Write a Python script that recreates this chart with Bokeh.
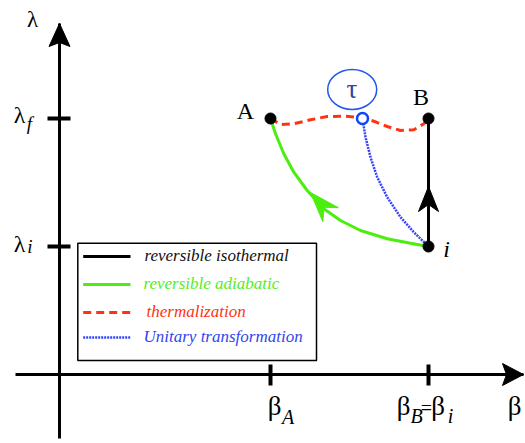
from bokeh.plotting import figure
from bokeh.models import Range1d
from bokeh.core.properties import value
from bokeh.embed import file_html
from bokeh.resources import INLINE
import numpy as np

SERIF = "Liberation Serif"

# ---------------- data (diagram coordinates: beta horizontal, lambda vertical) -------------
beta_A = 211
beta_B = 369
beta_tau = 303
lambda_i = 128
lambda_f = 256

beta_axis_extent = [-44, 464]
lambda_axis_extent = [-64, 351]

# reversible isothermal: i -> B
iso_beta = [beta_B, beta_B]
iso_lambda = [lambda_i, lambda_f]
iso_arrow_lambda = 188

# reversible adiabatic: i -> A
adi_beta = [369, 351, 327.7, 301, 281, 264.3, 247.7, 234.3, 224.3, 216, 211]
adi_lambda = [128, 131.3, 135.7, 144, 154, 165.7, 184, 202.3, 220.7, 240.7, 256]
adi_arrow = (251, 182)

# thermalization: A -> tau -> B
th_beta = [211, 221, 234.3, 251, 267.7, 284.3, 297.7, 303.3, 314.3, 327.7, 341, 354.3, 364.3, 369]
th_lambda = [256, 250, 250.7, 254.7, 258, 258.3, 257.3, 256.5, 253.3, 248, 244, 244.7, 250.7, 256]

# unitary transformation: tau -> i
un_beta = [303.3, 306, 311, 317.7, 327.7, 341, 354.3, 369]
un_lambda = [254, 237.3, 217.3, 197.3, 177.3, 157.3, 142.3, 128]

legend_labels = ["reversible isothermal", "reversible adiabatic", "thermalization", "Unitary transformation"]
legend_line_colors = ["#000000", "#4cee10", "#ff3311", "#3344ff"]
legend_text_colors = ["#111111", "#55ee22", "#ff3311", "#3344ee"]
legend_dashes = ["solid", "solid", "8 5", "2 1"]
legend_widths = [3, 3, 3, 2.5]
legend_text_x = [85, 84, 87, 84]

GREEN = "#4cee10"
RED = "#ff3311"
BLUE = "#3344ff"

# ---------------- figure ----------------
p = figure(width=525, height=443, output_backend="svg", toolbar_location=None,
           x_range=Range1d(-59, 466), y_range=Range1d(-69, 374),
           x_axis_type=None, y_axis_type=None, min_border=0)
p.outline_line_color = None
p.background_fill_color = "white"
p.border_fill_color = "white"


def head(tip, direction, L, W, D):
    u = np.array(direction, dtype=float)
    u = u / np.hypot(*u)
    n = np.array([-u[1], u[0]])
    t = np.array(tip, dtype=float)
    b1 = t - L * u + W / 2 * n
    nt = t - D * u
    b2 = t - L * u - W / 2 * n
    pts = [t, b1, nt, b2]
    return [q[0] for q in pts], [q[1] for q in pts]


# axes
p.line(beta_axis_extent, [0, 0], line_color="black", line_width=3)
p.line([0, 0], lambda_axis_extent, line_color="black", line_width=3)
hx, hy = head((beta_axis_extent[1], 0), (1, 0), 21, 22, 17)
p.patch(hx, hy, fill_color="black", line_color="black", line_width=1)
hx, hy = head((0, lambda_axis_extent[1]), (0, 1), 23, 21, 19)
p.patch(hx, hy, fill_color="black", line_color="black", line_width=1)

# ticks
for lam in [lambda_f, lambda_i]:
    p.line([-12, 11], [lam, lam], line_color="black", line_width=4)
for bet in [beta_A, beta_B]:
    p.line([bet, bet], [-11, 10], line_color="black", line_width=4)


def txt(x, y, s, size, italic=False, color="black", align="center"):
    p.text(x=[x], y=[y], text=[s], text_font=value(SERIF),
           text_font_size=f"{size}px", text_font_style="italic" if italic else "normal",
           text_color=color, text_align=align, text_baseline="middle")


# axis / tick labels
txt(-27, 355, "λ", 23)
txt(-40, lambda_f + 4, "λ", 24)
txt(-30, lambda_f - 5, "f", 19, italic=True)
txt(-40, lambda_i + 3, "λ", 24)
txt(-29.5, lambda_i + 0.5, "i", 19, italic=True)

txt(beta_A + 4, -31, "β", 27)
txt(beta_A + 17.5, -42, "A", 20, italic=True)
txt(beta_B - 25, -31, "β", 27)
txt(beta_B - 12, -41, "B", 20, italic=True)
txt(beta_B - 2, -33.5, "=", 20)
txt(beta_B + 9.5, -31, "β", 27)
txt(beta_B + 22, -41.5, "i", 20, italic=True)
txt(455, -31, "β", 27)

# curves
p.line(adi_beta, adi_lambda, line_color=GREEN, line_width=3)
p.line(th_beta, th_lambda, line_color=RED, line_width=3, line_dash="8 5")
p.line(un_beta, un_lambda, line_color=BLUE, line_width=2.5, line_dash="2 1")
p.line(iso_beta, iso_lambda, line_color="black", line_width=3)

# arrow heads on curves
hx, hy = head((beta_B, iso_arrow_lambda), (0, 1), 25, 20, 18)
p.patch(hx, hy, fill_color="black", line_color="black", line_width=1)
ab = np.array(adi_beta); al = np.array(adi_lambda)
k = int(np.argmin(np.hypot(ab - adi_arrow[0], al - adi_arrow[1])))
k = max(k, 1)
d = (ab[k] - ab[k - 1], al[k] - al[k - 1])
hx, hy = head(adi_arrow, d, 30, 21, 20)
p.patch(hx, hy, fill_color=GREEN, line_color=GREEN, line_width=1)

# points
p.scatter([beta_A, beta_B, beta_B], [lambda_f, lambda_f, lambda_i], size=11,
          fill_color="black", line_color="black")
p.scatter([beta_tau], [lambda_f], size=11, fill_color="white", line_color="#1144ff", line_width=2.5)

# point labels
txt(186, 264, "A", 24)
txt(361.5, 277.5, "B", 24)
txt(387, 126, "i", 24, italic=True)

# tau bubble
p.ellipse(x=[292.7], y=[285], width=49, height=40, fill_color=None, line_color="#2255ee", line_width=1.5)
txt(292.5, 286, "τ", 27, color="#334499")

# legend box
p.quad(left=[18.3], right=[257], bottom=[14], top=[131.3], fill_color="white",
       line_color="black", line_width=1.5)
rows_y = [118, 90, 62, 37]
for lab, lc, tc, dsh, lw, yy, tx in zip(legend_labels, legend_line_colors, legend_text_colors,
                                        legend_dashes, legend_widths, rows_y, legend_text_x):
    p.line([23.7, 71], [yy, yy], line_color=lc, line_width=lw, line_dash=dsh)
    txt(tx, yy + 1, lab, 17, italic=True, color=tc, align="left")

open("out.html", "w").write(file_html(p, INLINE))
